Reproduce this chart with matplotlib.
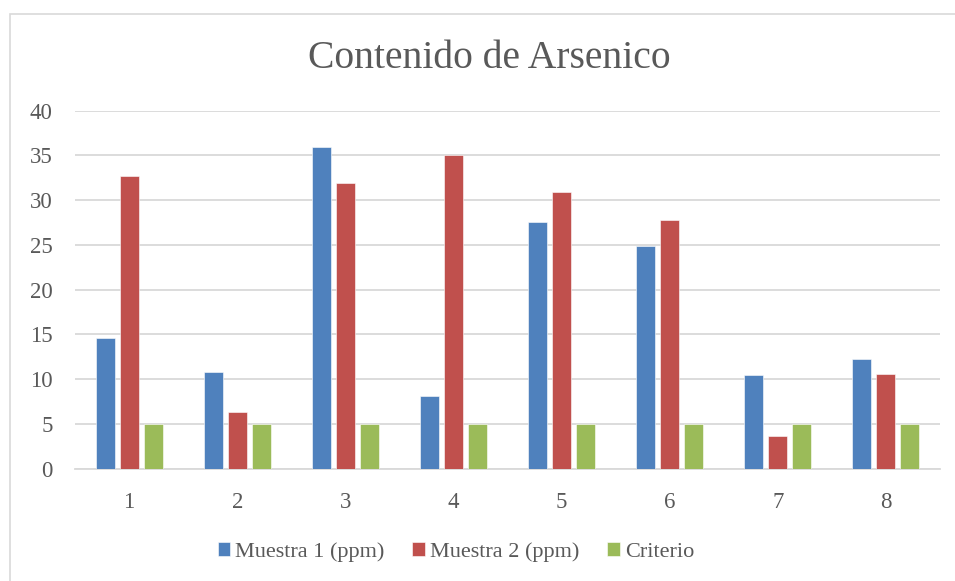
import matplotlib
matplotlib.use("Agg")
import matplotlib.pyplot as plt
from matplotlib.patches import Rectangle
import numpy as np

# datos
puntos = ["1", "2", "3", "4", "5", "6", "7", "8"]
muestra_1 = [14.6, 10.8, 35.9, 8.1, 27.6, 24.9, 10.5, 12.3]
muestra_2 = [32.7, 6.3, 31.9, 35.0, 30.9, 27.8, 3.6, 10.6]
criterio = [5, 5, 5, 5, 5, 5, 5, 5]
series_labels = ["Muestra 1 (ppm)", "Muestra 2 (ppm)", "Criterio"]
yticks = [0, 5, 10, 15, 20, 25, 30, 35, 40]

COLORS = ["#4F81BD", "#C0504D", "#9BBB59"]
TEXT = "#595959"
GRID = "#D9D9D9"

plt.rcParams.update({
    "font.family": ["Liberation Serif", "DejaVu Serif"],
    "text.color": TEXT,
    "xtick.color": TEXT,
    "ytick.color": TEXT,
})

fig = plt.figure(figsize=(9.55, 5.81), dpi=100)
W, H = 955, 581

# marco exterior del gráfico (sólo se ven los bordes izquierdo y superior)
fig.patches.append(Rectangle((10 / W, -0.1), 1.2, 1 - 13.5 / H + 0.1,
                             transform=fig.transFigure, fill=False,
                             edgecolor="#D9D9D9", linewidth=1.2))

ax = fig.add_axes([75 / W, 1 - 468.7 / H, 865 / W, 358 / H])

x = np.arange(len(puntos))
step = 0.222
w = 0.175
for i, (vals, lab) in enumerate(zip([muestra_1, muestra_2, criterio], series_labels)):
    ax.bar(x + (i - 1) * step, vals, w, color=COLORS[i], label=lab,
           edgecolor="white", linewidth=0.4, zorder=3)

ax.set_xlim(-0.5, len(puntos) - 0.5)
ax.set_ylim(0, 40)
ax.set_yticks(yticks)
ax.set_xticks(x)
ax.set_xticklabels(puntos)
ax.grid(axis="y", color=GRID, linewidth=1.3, zorder=0)
ax.set_axisbelow(True)
for side in ["top", "right", "left"]:
    ax.spines[side].set_visible(False)
ax.spines["bottom"].set_color(GRID)
ax.spines["bottom"].set_linewidth(1.3)
ax.tick_params(axis="both", length=0, labelsize=16.5)
ax.tick_params(axis="y", pad=16)
ax.tick_params(axis="x", pad=17)

fig.text(489 / W, 1 - 58 / H, "Contenido de Arsenico", ha="center", va="center",
         fontsize=28.5, color=TEXT)

fig.legend(loc="center", bbox_to_anchor=(456 / W, 1 - 552 / H), ncol=3,
           frameon=False, fontsize=16, handlelength=0.55, handleheight=0.55,
           handletextpad=0.25, columnspacing=1.25, labelcolor=TEXT)

fig.savefig("out.png", dpi=100, facecolor="white")
